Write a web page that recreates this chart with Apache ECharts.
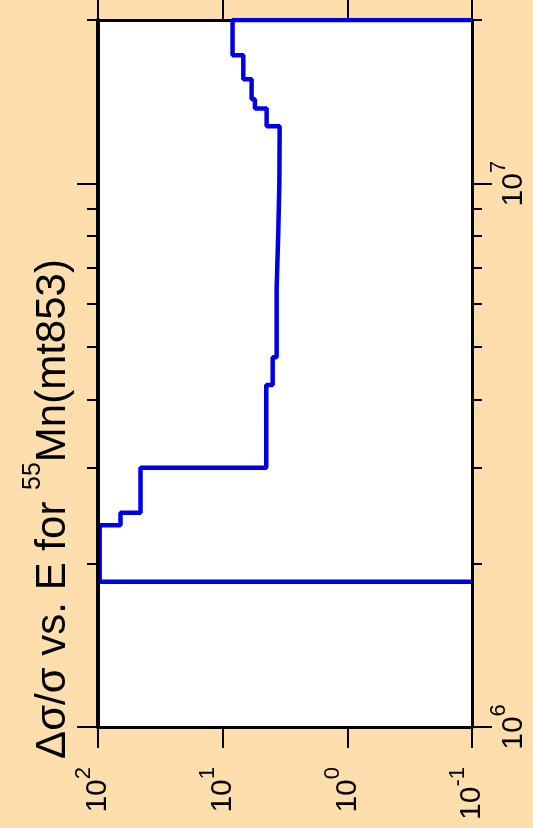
<!DOCTYPE html>
<html>
<head>
<meta charset="utf-8">
<script src="https://cdn.jsdelivr.net/npm/echarts@6/dist/echarts.min.js"></script>
<style>
  html, body { margin: 0; padding: 0; background: #ffdead; }
  #chart { width: 533px; height: 828px; }
</style>
</head>
<body>
<div id="chart"></div>
<script>
// bin edges (eV) and relative uncertainty per bin
const energyEdges = [1.85e6, 2.35e6, 2.48e6, 3.0e6, 4.26e6, 4.79e6, 6.41e6, 8.15e6,
  1.0e7, 1.275e7, 1.375e7, 1.43e7, 1.556e7, 1.722e7, 2.0e7];
const relUnc = [97, 66, 45.6, 4.47, 3.97, 3.69, 3.58, 3.51, 3.49, 4.44, 5.51, 5.86, 6.83, 8.33];
const zeroLevel = 0.1; // outside the bins the curve drops to the axis floor

const uncTicks = [0.1, 1, 10, 100];
const energyMajor = [1e6, 1e7];
const energyMinor = [2e6, 3e6, 4e6, 5e6, 6e6, 7e6, 8e6, 9e6, 2e7];

const FONT = "'Liberation Sans', Arial, sans-serif";

let points = [[zeroLevel, energyEdges[0]]];
relUnc.forEach((v, i) => {
  points.push([v, energyEdges[i]]);
  points.push([v, energyEdges[i + 1]]);
});
points.push([zeroLevel, energyEdges[energyEdges.length - 1]]);

const powLabel = v => {
  let e = Math.round(Math.log10(v));
  return '{b|10}{s|' + e + '}';
};
const powRich = {
  b: {fontSize: 30, fontFamily: FONT, color: '#000', lineHeight: 51},
  s: {fontSize: 22, fontFamily: FONT, color: '#000', lineHeight: 22, verticalAlign: 'top'}
};

const black = {color: '#000', width: 3};
const tickStyle = {color: '#000', width: 2};

let uncAxis = (pos, showLabel) => ({
  type: 'log',
  logBase: 10,
  min: 0.1,
  max: 100,
  inverse: true,
  position: pos,
  axisLine: {show: true, onZero: false, lineStyle: black},
  axisTick: {show: true, inside: false, length: 21, customValues: uncTicks, lineStyle: tickStyle},
  axisLabel: {
    show: showLabel,
    customValues: uncTicks,
    rotate: 90,
    margin: 40,
    formatter: powLabel,
    rich: powRich
  },
  splitLine: {show: false},
  minorTick: {show: false}
});

let energyAxis = (pos, ticks, len, lineW, showLabel, z) => ({
  type: 'log',
  logBase: 10,
  min: 1e6,
  max: 2e7,
  position: pos,
  offset: 0,
  z: z,
  axisLine: {show: lineW > 0, onZero: false, lineStyle: {color: '#000', width: lineW || 1}},
  axisTick: {show: true, inside: false, length: len, customValues: ticks, lineStyle: tickStyle},
  axisLabel: {
    show: showLabel,
    customValues: energyMajor,
    rotate: 90,
    margin: 16,
    formatter: powLabel,
    rich: powRich
  },
  splitLine: {show: false},
  minorTick: {show: false}
});

let chart = echarts.init(document.getElementById('chart'));
chart.setOption({
  animation: false,
  backgroundColor: '#ffdead',
  grid: {
    left: 98, right: 61, top: 20, bottom: 101,
    show: true, backgroundColor: '#fff', borderWidth: 0
  },
  xAxis: [uncAxis('bottom', true), uncAxis('top', false)],
  yAxis: [
    energyAxis('left', energyMajor, 21, 4, false, 5),
    energyAxis('left', energyMinor, 11, 0, false, 0),
    energyAxis('right', energyMajor, 20, 3, true, 0),
    energyAxis('right', energyMinor, 10, 0, false, 0)
  ],
  graphic: [{
    type: 'text',
    x: 53,
    y: 509,
    rotation: Math.PI / 2,
    style: {
      text: '{t|\u0394\u03c3/\u03c3 vs. E for }{s|55}{t|Mn(mt853)}',
      align: 'center',
      verticalAlign: 'middle',
      textAlign: 'center',
      textVerticalAlign: 'middle',
      fill: '#000',
      rich: {
        t: {fontSize: 42, fontFamily: FONT, fill: '#000', color: '#000', lineHeight: 64},
        s: {fontSize: 25, fontFamily: FONT, fill: '#000', color: '#000', lineHeight: 25, verticalAlign: 'top'}
      }
    }
  }],
  series: [{
    type: 'line',
    xAxisIndex: 0,
    yAxisIndex: 0,
    data: points,
    showSymbol: false,
    clip: true,
    lineStyle: {color: '#0000e6', width: 4.5},
    z: 3
  }]
});
</script>
</body>
</html>
